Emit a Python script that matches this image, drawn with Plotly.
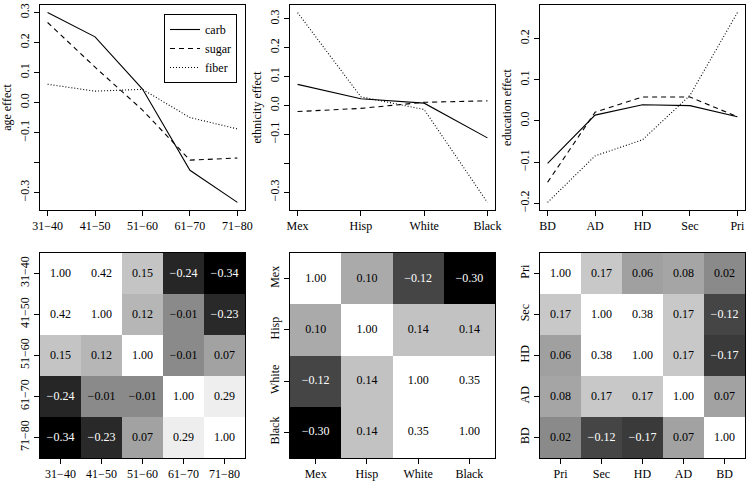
import plotly.graph_objects as go

# ---------------- data ----------------
age_cats = ["31−40", "41−50", "51−60", "61−70", "71−80"]
age_carb = [0.300, 0.219, 0.045, -0.226, -0.333]
age_sugar = [0.267, 0.118, -0.025, -0.192, -0.185]
age_fiber = [0.061, 0.038, 0.044, -0.050, -0.088]

eth_cats = ["Mex", "Hisp", "White", "Black"]
eth_carb = [0.073, 0.023, 0.008, -0.112]
eth_sugar = [-0.021, -0.010, 0.011, 0.016]
eth_fiber = [0.321, 0.030, -0.014, -0.335]

edu_cats = ["BD", "AD", "HD", "Sec", "Pri"]
edu_carb = [-0.103, 0.014, 0.039, 0.037, 0.010]
edu_sugar = [-0.149, 0.021, 0.058, 0.058, 0.010]
edu_fiber = [-0.198, -0.085, -0.046, 0.062, 0.263]

age_corr = [[1.00, 0.42, 0.15, -0.24, -0.34],
            [0.42, 1.00, 0.12, -0.01, -0.23],
            [0.15, 0.12, 1.00, -0.01, 0.07],
            [-0.24, -0.01, -0.01, 1.00, 0.29],
            [-0.34, -0.23, 0.07, 0.29, 1.00]]
eth_corr = [[1.00, 0.10, -0.12, -0.30],
            [0.10, 1.00, 0.14, 0.14],
            [-0.12, 0.14, 1.00, 0.35],
            [-0.30, 0.14, 0.35, 1.00]]
edu_corr_cats = ["Pri", "Sec", "HD", "AD", "BD"]
edu_corr = [[1.00, 0.17, 0.06, 0.08, 0.02],
            [0.17, 1.00, 0.38, 0.17, -0.12],
            [0.06, 0.38, 1.00, 0.17, -0.17],
            [0.08, 0.17, 0.17, 1.00, 0.07],
            [0.02, -0.12, -0.17, 0.07, 1.00]]

age_ticks = [-0.3, -0.2, -0.1, 0.0, 0.1, 0.2, 0.3]
age_ticktext = ["−0.3", "", "−0.1", "0.0", "0.1", "0.2", "0.3"]
eth_ticks = [-0.3, -0.2, -0.1, 0.0, 0.1, 0.2, 0.3]
eth_ticktext = ["−0.3", "", "−0.1", "0.0", "0.1", "0.2", "0.3"]
edu_ticks = [-0.2, -0.1, 0.0, 0.1, 0.2]
edu_ticktext = ["−0.2", "−0.1", "0.0", "0.1", "0.2"]

# ---------------- style ----------------
W, H = 751, 487
FONT = "Liberation Serif, Times New Roman, serif"

def px_x(a, b):
    return [a / W, b / W]

def px_y(a, b):
    return [1 - b / H, 1 - a / H]

cols = [px_x(40, 245), px_x(290, 495), px_x(540, 745)]
top = px_y(5, 210)
bot = px_y(253, 458)

grey_scale = [
    [0.0, "rgb(0,0,0)"],
    [0.10, "rgb(38,38,38)"],
    [0.2167, "rgb(58,58,58)"],
    [0.30, "rgb(69,69,69)"],
    [0.4833, "rgb(138,138,138)"],
    [0.5333, "rgb(138,138,138)"],
    [0.60, "rgb(160,160,160)"],
    [0.6667, "rgb(170,170,170)"],
    [0.7333, "rgb(194,194,194)"],
    [0.7833, "rgb(200,200,200)"],
    [0.9833, "rgb(238,238,238)"],
    [1.0, "rgb(255,255,255)"],
]

fig = go.Figure()

line_styles = [("carb", "solid"), ("sugar", "5px,4px"), ("fiber", "1px,2px")]

def fmt(v):
    return f"{v:.2f}".replace("-", "−")

def axis_common():
    return dict(ticks="outside", ticklen=5, tickcolor="black",
                showline=True, mirror=True, linecolor="black", linewidth=1,
                showgrid=False, zeroline=False, automargin=False,
                tickfont=dict(family=FONT, size=12, color="black"))

def add_lines(idx, cats, series, ylab, ticks, ticktext, showlegend):
    xa = f"x{idx}" if idx > 1 else "x"
    ya = f"y{idx}" if idx > 1 else "y"
    xs = list(range(1, len(cats) + 1))
    allv = [v for s in series for v in s]
    lo, hi = min(allv), max(allv)
    pad = 0.04 * (hi - lo)
    for (name, dash), s in zip(line_styles, series):
        fig.add_trace(go.Scatter(x=xs, y=s, mode="lines", name=name,
                                 line=dict(color="black", width=1.1, dash=dash),
                                 xaxis=xa, yaxis=ya, showlegend=showlegend))
    n = len(cats)
    xpad = 0.04 * (n - 1)
    fig.layout[f"xaxis{idx if idx > 1 else ''}"] = dict(
        domain=cols[(idx - 1) % 3], anchor=ya, range=[1 - xpad, n + xpad],
        tickvals=xs, ticktext=cats, **axis_common())
    fig.layout[f"yaxis{idx if idx > 1 else ''}"] = dict(
        domain=top, anchor=xa, range=[lo - pad, hi + pad],
        tickvals=ticks, ticktext=ticktext, tickangle=-90,
        title=dict(text=ylab, font=dict(family=FONT, size=12, color="black"), standoff=4),
        **axis_common())

def add_heat(idx, cats, corr):
    xa = f"x{idx}"
    ya = f"y{idx}"
    fig.add_trace(go.Heatmap(x=cats, y=cats, z=corr, zmin=-0.3, zmax=0.3,
                             colorscale=grey_scale, showscale=False,
                             xaxis=xa, yaxis=ya, hoverinfo="skip"))
    tx, ty, tt, tc = [], [], [], []
    for i, r in enumerate(cats):
        for j, c in enumerate(cats):
            v = corr[i][j]
            tx.append(c); ty.append(r); tt.append(fmt(v))
            tc.append("white" if v < -0.05 else "black")
    fig.add_trace(go.Scatter(x=tx, y=ty, text=tt, mode="text",
                             textfont=dict(family=FONT, size=12, color=tc),
                             xaxis=xa, yaxis=ya, showlegend=False, hoverinfo="skip"))
    fig.layout[f"xaxis{idx}"] = dict(
        domain=cols[(idx - 1) % 3], anchor=ya, type="category", **axis_common())
    fig.layout[f"yaxis{idx}"] = dict(
        domain=bot, anchor=xa, type="category", autorange="reversed", tickangle=-90,
        **axis_common())

add_lines(1, age_cats, [age_carb, age_sugar, age_fiber], "age effect", age_ticks, age_ticktext, True)
add_lines(2, eth_cats, [eth_carb, eth_sugar, eth_fiber], "ethnicity effect", eth_ticks, eth_ticktext, False)
add_lines(3, edu_cats, [edu_carb, edu_sugar, edu_fiber], "education effect", edu_ticks, edu_ticktext, False)
add_heat(4, age_cats, age_corr)
add_heat(5, eth_cats, eth_corr)
add_heat(6, edu_corr_cats, edu_corr)

fig.update_layout(
    width=W, height=H, autosize=False,
    margin=dict(l=0, r=0, t=0, b=0),
    paper_bgcolor="white", plot_bgcolor="white",
    font=dict(family=FONT, size=12, color="black"),
    legend=dict(x=237 / W, y=1 - 14 / H, xanchor="right", yanchor="top",
                bordercolor="black", borderwidth=1, bgcolor="white",
                itemwidth=30, font=dict(family=FONT, size=12, color="black"),
                tracegroupgap=0),
)

fig.write_html("out.html", config={"displayModeBar": False},
               post_script="document.body.style.margin='0';")
